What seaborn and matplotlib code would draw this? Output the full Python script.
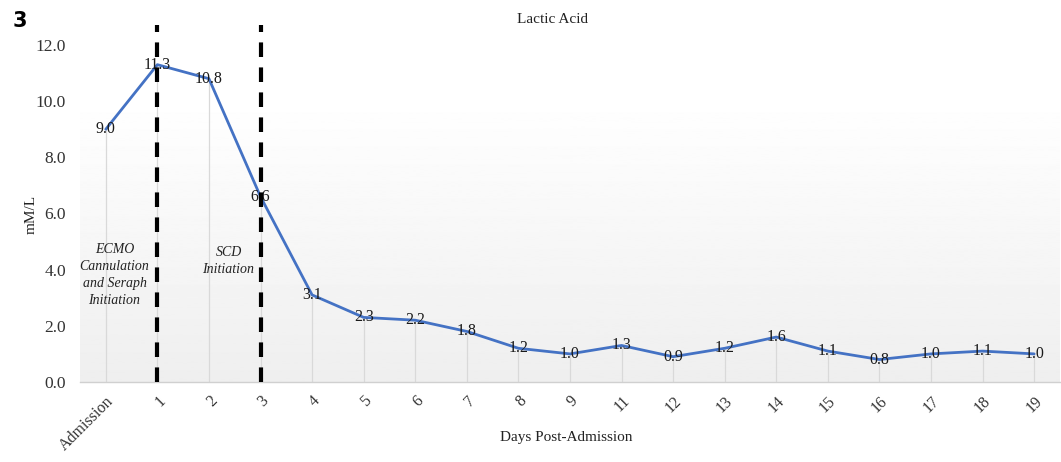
import numpy as np
import pandas as pd
import matplotlib
matplotlib.use("Agg")
import matplotlib.pyplot as plt
import seaborn as sns

categories = ["Admission", "1", "2", "3", "4", "5", "6", "7", "8", "9", "11",
              "12", "13", "14", "15", "16", "17", "18", "19"]
lactate = [9.0, 11.3, 10.8, 6.6, 3.1, 2.3, 2.2, 1.8, 1.2, 1.0, 1.3,
           0.9, 1.2, 1.6, 1.1, 0.8, 1.0, 1.1, 1.0]
event_days = ["1", "3"]
event_labels = ["ECMO\nCannulation\nand Seraph\nInitiation", "SCD\nInitiation"]
yticks = [0, 2, 4, 6, 8, 10, 12]

sns.set_theme(style="white")
plt.rcParams["font.family"] = ["Liberation Serif", "DejaVu Serif"]

df = pd.DataFrame({"pos": np.arange(len(categories)), "day": categories, "value": lactate})

fig = plt.figure(figsize=(10.61, 4.62), dpi=100)
ax = fig.add_axes([0.0754, 0.1732, 0.9236, 0.7294])

ax.set_xlim(-0.5, len(categories) - 0.5)
ax.set_ylim(0, 12)

# gradient background
grad = np.linspace(1.0, 0.935, 256).reshape(-1, 1)
ax.imshow(grad, extent=[-0.5, len(categories) - 0.5, 0, 10.2], aspect="auto",
          cmap="gray", vmin=0, vmax=1, origin="upper", zorder=0)

# drop lines
ax.vlines(df["pos"], 0, df["value"], color="#d9d9d9", lw=0.9, zorder=1)

sns.lineplot(data=df, x="pos", y="value", ax=ax, color="#4472C4", lw=2.0,
             zorder=3, legend=False)

for p, v in zip(df["pos"], df["value"]):
    ax.text(p, v, f"{v:.1f}", ha="center", va="center", fontsize=11.5,
            color="#1a1a1a", zorder=4)

for d in event_days:
    p = categories.index(d)
    ax.plot([p, p], [0, 12.7], color="black", lw=3, ls=(0, (3.5, 2.5)),
            clip_on=False, zorder=5)

ax.text(0.17, 3.8, event_labels[0], ha="center", va="center", fontsize=10,
        style="italic", color="#222222", linespacing=1.4)
ax.text(2.38, 4.3, event_labels[1], ha="center", va="center", fontsize=10,
        style="italic", color="#222222", linespacing=1.4)

ax.set_xticks(df["pos"])
ax.set_xticklabels(categories, rotation=45, ha="right", rotation_mode="anchor",
                   fontsize=11.5, color="#333333")
ax.set_yticks(yticks)
ax.set_yticklabels([f"{t:.1f}" for t in yticks], fontsize=12.5, color="#333333")
ax.tick_params(axis="both", length=0)
ax.tick_params(axis="x", pad=8)
ax.tick_params(axis="y", pad=10)

for s in ["top", "right", "left"]:
    ax.spines[s].set_visible(False)
ax.spines["bottom"].set_color("#d0d0d0")
ax.spines["bottom"].set_linewidth(1.0)

ax.set_xlabel("")
ax.set_ylabel("")
fig.text(0.534, 0.054, "Days Post-Admission", ha="center", va="center",
         fontsize=11, color="#222222")
fig.text(0.029, 0.535, "mM/L", ha="center", va="center", rotation=90,
         fontsize=11, color="#222222")

fig.text(0.521, 0.957, "Lactic Acid", ha="center", va="center", fontsize=11,
         color="#222222")
fig.text(0.012, 0.955, "3", ha="left", va="center", fontsize=15,
         fontweight="bold", family="DejaVu Sans", color="black")

fig.savefig("out.png", dpi=100)
